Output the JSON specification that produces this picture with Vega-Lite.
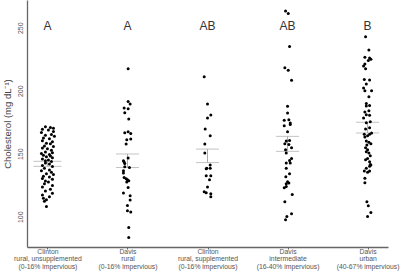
{
  "$schema": "https://vega.github.io/schema/vega-lite/v6.json",
  "width": 361,
  "height": 247,
  "autosize": "none",
  "padding": {"left": 27, "top": 0, "right": 12, "bottom": 27},
  "background": "white",
  "config": {
    "view": {"stroke": null},
    "font": "Liberation Sans",
    "axis": {"domainColor": "#666", "tickColor": "#666", "labelColor": "#555", "titleColor": "#444", "grid": false, "labelFont": "Liberation Sans", "titleFont": "Liberation Sans"}
  },
  "datasets": {
    "pts": [
      {"site": "C-U", "chol": 171.5, "jit": -2}, {"site": "C-U", "chol": 170.8, "jit": 3}, {"site": "C-U", "chol": 170.2, "jit": 6},
      {"site": "C-U", "chol": 169.4, "jit": -5}, {"site": "C-U", "chol": 168.9, "jit": 1}, {"site": "C-U", "chol": 167.6, "jit": 6},
      {"site": "C-U", "chol": 166.8, "jit": -6}, {"site": "C-U", "chol": 165.2, "jit": 4}, {"site": "C-U", "chol": 164.7, "jit": -2},
      {"site": "C-U", "chol": 163.9, "jit": 7}, {"site": "C-U", "chol": 162.5, "jit": -4}, {"site": "C-U", "chol": 161.8, "jit": 2},
      {"site": "C-U", "chol": 160.3, "jit": -5}, {"site": "C-U", "chol": 159.6, "jit": 5}, {"site": "C-U", "chol": 158.4, "jit": -1},
      {"site": "C-U", "chol": 157.9, "jit": 3}, {"site": "C-U", "chol": 156.2, "jit": -3}, {"site": "C-U", "chol": 155.8, "jit": 6},
      {"site": "C-U", "chol": 154.6, "jit": -5}, {"site": "C-U", "chol": 153.9, "jit": 0}, {"site": "C-U", "chol": 152.7, "jit": 4},
      {"site": "C-U", "chol": 151.4, "jit": -2}, {"site": "C-U", "chol": 150.8, "jit": 5}, {"site": "C-U", "chol": 150.1, "jit": -6},
      {"site": "C-U", "chol": 149.5, "jit": 2}, {"site": "C-U", "chol": 148.9, "jit": -4}, {"site": "C-U", "chol": 148.2, "jit": 3},
      {"site": "C-U", "chol": 147.6, "jit": -1}, {"site": "C-U", "chol": 146.9, "jit": 5}, {"site": "C-U", "chol": 145.8, "jit": -5},
      {"site": "C-U", "chol": 145.1, "jit": 1}, {"site": "C-U", "chol": 144.4, "jit": -2}, {"site": "C-U", "chol": 143.8, "jit": 4},
      {"site": "C-U", "chol": 142.6, "jit": -2}, {"site": "C-U", "chol": 141.9, "jit": 2}, {"site": "C-U", "chol": 140.7, "jit": -5},
      {"site": "C-U", "chol": 139.8, "jit": 5}, {"site": "C-U", "chol": 138.5, "jit": -3}, {"site": "C-U", "chol": 137.2, "jit": 2},
      {"site": "C-U", "chol": 136.6, "jit": -6}, {"site": "C-U", "chol": 135.4, "jit": 4}, {"site": "C-U", "chol": 134.1, "jit": -1},
      {"site": "C-U", "chol": 133.5, "jit": 6}, {"site": "C-U", "chol": 132.2, "jit": -4}, {"site": "C-U", "chol": 131.6, "jit": 2},
      {"site": "C-U", "chol": 130.4, "jit": -5}, {"site": "C-U", "chol": 129.7, "jit": 5}, {"site": "C-U", "chol": 128.3, "jit": -2},
      {"site": "C-U", "chol": 127.5, "jit": 1}, {"site": "C-U", "chol": 126.1, "jit": -3}, {"site": "C-U", "chol": 124.8, "jit": 5},
      {"site": "C-U", "chol": 123.6, "jit": -5}, {"site": "C-U", "chol": 121.9, "jit": 3}, {"site": "C-U", "chol": 120.4, "jit": -2},
      {"site": "C-U", "chol": 118.7, "jit": 5}, {"site": "C-U", "chol": 117.2, "jit": -5}, {"site": "C-U", "chol": 115.8, "jit": 2},
      {"site": "C-U", "chol": 114.6, "jit": -4}, {"site": "C-U", "chol": 113.5, "jit": -1}, {"site": "C-U", "chol": 112.3, "jit": -3},
      {"site": "C-U", "chol": 108.2, "jit": -1},

      {"site": "D-R", "chol": 217.5, "jit": 0.7}, {"site": "D-R", "chol": 191.5, "jit": 0.7}, {"site": "D-R", "chol": 189.5, "jit": 2.7},
      {"site": "D-R", "chol": 186.3, "jit": -3.3}, {"site": "D-R", "chol": 185.7, "jit": 0.7}, {"site": "D-R", "chol": 182.6, "jit": -2.7},
      {"site": "D-R", "chol": 177.6, "jit": 1.3}, {"site": "D-R", "chol": 166.7, "jit": -2.7}, {"site": "D-R", "chol": 167.5, "jit": 0.7},
      {"site": "D-R", "chol": 166.1, "jit": 3.3}, {"site": "D-R", "chol": 161.1, "jit": -0.7}, {"site": "D-R", "chol": 161.7, "jit": 3.3},
      {"site": "D-R", "chol": 157.7, "jit": -1.3}, {"site": "D-R", "chol": 146.6, "jit": 0.7}, {"site": "D-R", "chol": 144.4, "jit": -4},
      {"site": "D-R", "chol": 143.4, "jit": -3.3}, {"site": "D-R", "chol": 142.3, "jit": -2.7}, {"site": "D-R", "chol": 139.7, "jit": -2.7},
      {"site": "D-R", "chol": 139.1, "jit": 2}, {"site": "D-R", "chol": 136.5, "jit": -4}, {"site": "D-R", "chol": 134.7, "jit": -4},
      {"site": "D-R", "chol": 131.2, "jit": -3.3}, {"site": "D-R", "chol": 130.2, "jit": -1.3}, {"site": "D-R", "chol": 129.4, "jit": 0},
      {"site": "D-R", "chol": 128.6, "jit": 1.3}, {"site": "D-R", "chol": 127.5, "jit": -0.7}, {"site": "D-R", "chol": 123.3, "jit": 0.7},
      {"site": "D-R", "chol": 118.9, "jit": -4}, {"site": "D-R", "chol": 116.7, "jit": 2.7}, {"site": "D-R", "chol": 113.3, "jit": 2.7},
      {"site": "D-R", "chol": 109.0, "jit": 0}, {"site": "D-R", "chol": 104.8, "jit": 0}, {"site": "D-R", "chol": 103.7, "jit": 3.3},
      {"site": "D-R", "chol": 91.5, "jit": 1.3}, {"site": "D-R", "chol": 83.6, "jit": 1.3},

      {"site": "C-S", "chol": 211.0, "jit": -3.3}, {"site": "C-S", "chol": 189.5, "jit": 0}, {"site": "C-S", "chol": 180.7, "jit": 3.3},
      {"site": "C-S", "chol": 178.4, "jit": 0}, {"site": "C-S", "chol": 169.6, "jit": -2.3}, {"site": "C-S", "chol": 164.3, "jit": 2.7},
      {"site": "C-S", "chol": 157.7, "jit": -2.7}, {"site": "C-S", "chol": 150.5, "jit": -2.7}, {"site": "C-S", "chol": 141.0, "jit": 2.7},
      {"site": "C-S", "chol": 138.5, "jit": -0.7}, {"site": "C-S", "chol": 138.5, "jit": 2.7}, {"site": "C-S", "chol": 138.0, "jit": -1.3},
      {"site": "C-S", "chol": 132.5, "jit": -1.3}, {"site": "C-S", "chol": 132.5, "jit": 3.3}, {"site": "C-S", "chol": 129.4, "jit": 2},
      {"site": "C-S", "chol": 123.6, "jit": 0}, {"site": "C-S", "chol": 119.8, "jit": -3.3}, {"site": "C-S", "chol": 119.0, "jit": -1.3},
      {"site": "C-S", "chol": 118.3, "jit": 3.3}, {"site": "C-S", "chol": 115.9, "jit": 3.3},

      {"site": "D-I", "chol": 263.3, "jit": -2}, {"site": "D-I", "chol": 261.2, "jit": 0.7}, {"site": "D-I", "chol": 235.2, "jit": 2},
      {"site": "D-I", "chol": 218.3, "jit": -2.7}, {"site": "D-I", "chol": 216.2, "jit": 0.7}, {"site": "D-I", "chol": 208.3, "jit": 4},
      {"site": "D-I", "chol": 187.6, "jit": 0}, {"site": "D-I", "chol": 182.3, "jit": 0}, {"site": "D-I", "chol": 177.0, "jit": 1.3},
      {"site": "D-I", "chol": 176.6, "jit": -3.3}, {"site": "D-I", "chol": 174.4, "jit": 2.7}, {"site": "D-I", "chol": 173.3, "jit": 2.7},
      {"site": "D-I", "chol": 172.3, "jit": -3.3}, {"site": "D-I", "chol": 167.5, "jit": 0}, {"site": "D-I", "chol": 160.1, "jit": -1.3},
      {"site": "D-I", "chol": 160.6, "jit": 2}, {"site": "D-I", "chol": 158.0, "jit": -2.7}, {"site": "D-I", "chol": 157.4, "jit": 1.3},
      {"site": "D-I", "chol": 154.8, "jit": 4}, {"site": "D-I", "chol": 153.2, "jit": -2}, {"site": "D-I", "chol": 150.6, "jit": -1.3},
      {"site": "D-I", "chol": 146.3, "jit": 4}, {"site": "D-I", "chol": 144.7, "jit": 2}, {"site": "D-I", "chol": 142.6, "jit": -1.3},
      {"site": "D-I", "chol": 142.6, "jit": 2.7}, {"site": "D-I", "chol": 138.4, "jit": -1.3}, {"site": "D-I", "chol": 134.1, "jit": 2},
      {"site": "D-I", "chol": 131.7, "jit": -1.7}, {"site": "D-I", "chol": 127.8, "jit": 0}, {"site": "D-I", "chol": 126.8, "jit": 1.3},
      {"site": "D-I", "chol": 126.2, "jit": -1.3}, {"site": "D-I", "chol": 124.0, "jit": -1.3}, {"site": "D-I", "chol": 123.0, "jit": -3.3},
      {"site": "D-I", "chol": 117.7, "jit": 4.7}, {"site": "D-I", "chol": 111.9, "jit": -2.7}, {"site": "D-I", "chol": 102.4, "jit": 4},
      {"site": "D-I", "chol": 100.3, "jit": -0.7}, {"site": "D-I", "chol": 97.6, "jit": -2},

      {"site": "D-U", "chol": 242.9, "jit": -2}, {"site": "D-U", "chol": 232.3, "jit": 1.3}, {"site": "D-U", "chol": 226.5, "jit": -2.7},
      {"site": "D-U", "chol": 226.0, "jit": 2}, {"site": "D-U", "chol": 224.9, "jit": 3.3}, {"site": "D-U", "chol": 223.9, "jit": 0.7},
      {"site": "D-U", "chol": 221.3, "jit": -2.7}, {"site": "D-U", "chol": 219.6, "jit": -4}, {"site": "D-U", "chol": 217.5, "jit": -2},
      {"site": "D-U", "chol": 209.0, "jit": -3.3}, {"site": "D-U", "chol": 208.5, "jit": 2}, {"site": "D-U", "chol": 205.3, "jit": -1.3},
      {"site": "D-U", "chol": 202.2, "jit": -4}, {"site": "D-U", "chol": 200.0, "jit": 4}, {"site": "D-U", "chol": 200.0, "jit": -2.7},
      {"site": "D-U", "chol": 195.2, "jit": 1.3}, {"site": "D-U", "chol": 189.9, "jit": -1.3}, {"site": "D-U", "chol": 188.3, "jit": 2},
      {"site": "D-U", "chol": 187.9, "jit": -1.3}, {"site": "D-U", "chol": 184.2, "jit": 1.3}, {"site": "D-U", "chol": 183.2, "jit": -2.7},
      {"site": "D-U", "chol": 181.0, "jit": -1.3}, {"site": "D-U", "chol": 180.5, "jit": 2}, {"site": "D-U", "chol": 178.4, "jit": -4},
      {"site": "D-U", "chol": 174.5, "jit": -1.3}, {"site": "D-U", "chol": 175.4, "jit": 2.7}, {"site": "D-U", "chol": 170.7, "jit": 2},
      {"site": "D-U", "chol": 169.6, "jit": -2}, {"site": "D-U", "chol": 165.4, "jit": -3.3}, {"site": "D-U", "chol": 165.4, "jit": 2},
      {"site": "D-U", "chol": 166.5, "jit": 4}, {"site": "D-U", "chol": 164.3, "jit": 0}, {"site": "D-U", "chol": 163.3, "jit": -2.7},
      {"site": "D-U", "chol": 160.1, "jit": -1.3}, {"site": "D-U", "chol": 159.2, "jit": 1.3}, {"site": "D-U", "chol": 158.0, "jit": 3.3},
      {"site": "D-U", "chol": 157.0, "jit": -0.7}, {"site": "D-U", "chol": 154.8, "jit": -2}, {"site": "D-U", "chol": 153.2, "jit": 0},
      {"site": "D-U", "chol": 151.6, "jit": -1.3}, {"site": "D-U", "chol": 150.6, "jit": 1.3}, {"site": "D-U", "chol": 148.4, "jit": 2.7},
      {"site": "D-U", "chol": 146.3, "jit": 0}, {"site": "D-U", "chol": 145.3, "jit": -2}, {"site": "D-U", "chol": 143.7, "jit": 2},
      {"site": "D-U", "chol": 141.5, "jit": 2.7}, {"site": "D-U", "chol": 141.1, "jit": 3.3}, {"site": "D-U", "chol": 140.0, "jit": 2},
      {"site": "D-U", "chol": 138.4, "jit": -1.3}, {"site": "D-U", "chol": 136.4, "jit": -3.3}, {"site": "D-U", "chol": 136.4, "jit": 2},
      {"site": "D-U", "chol": 135.3, "jit": 0}, {"site": "D-U", "chol": 130.6, "jit": -2.7}, {"site": "D-U", "chol": 126.9, "jit": -2.7},
      {"site": "D-U", "chol": 111.9, "jit": -0.7}, {"site": "D-U", "chol": 108.7, "jit": 0.7}, {"site": "D-U", "chol": 103.4, "jit": 3.3},
      {"site": "D-U", "chol": 100.2, "jit": 0}
    ],
    "se": [
      {"site": "C-U", "lo": 140.0, "hi": 144.0, "wide": true},
      {"site": "D-R", "lo": 139.1, "hi": 149.8, "wide": false},
      {"site": "C-S", "lo": 143.0, "hi": 153.7, "wide": false},
      {"site": "D-I", "lo": 151.9, "hi": 163.8, "wide": false},
      {"site": "D-U", "lo": 166.5, "hi": 175.0, "wide": false}
    ],
    "letters": [
      {"site": "C-U", "letter": "A"},
      {"site": "D-R", "letter": "A"},
      {"site": "C-S", "letter": "AB"},
      {"site": "D-I", "letter": "AB"},
      {"site": "D-U", "letter": "B"}
    ]
  },
  "encoding": {
    "x": {
      "field": "site", "type": "nominal",
      "sort": ["C-U", "D-R", "C-S", "D-I", "D-U"],
      "scale": {"type": "point", "padding": 0.255},
      "axis": {
        "title": null, "labelAngle": 0, "labelFontSize": 6.8, "labelLineHeight": 7.6,
        "tickSize": 2, "labelPadding": -1, "domainWidth": 1.3, "labelBaseline": "top",
        "labelExpr": "{'C-U': ['Clinton', 'rural, unsupplemented', '(0-16% impervious)'], 'D-R': ['Davis', 'rural', '(0-16% impervious)'], 'C-S': ['Clinton', 'rural, supplemented', '(0-16% impervious)'], 'D-I': ['Davis', 'intermediate', '(16-40% impervious)'], 'D-U': ['Davis', 'urban', '(40-67% impervious)']}[datum.value]"
      }
    }
  },
  "layer": [
    {
      "data": {"name": "se"},
      "mark": {"type": "rule", "color": "#aaaaaa", "strokeWidth": 1},
      "encoding": {
        "y": {"field": "lo", "type": "quantitative", "scale": {"domain": [76, 272], "nice": false, "zero": false}},
        "y2": {"field": "hi"}
      }
    },
    {
      "data": {"name": "se"},
      "transform": [{"fold": ["lo", "hi"], "as": ["bound", "val"]}],
      "mark": {"type": "tick", "color": "#aaaaaa", "thickness": 1, "orient": "horizontal"},
      "encoding": {
        "y": {"field": "val", "type": "quantitative"},
        "size": {"condition": {"test": "datum.wide", "value": 28}, "value": 23}
      }
    },
    {
      "data": {"name": "pts"},
      "mark": {"type": "circle", "color": "black", "opacity": 1, "size": 9},
      "encoding": {
        "y": {
          "field": "chol", "type": "quantitative",
          "scale": {"domain": [76, 272], "nice": false, "zero": false},
          "axis": {
            "title": "Cholesterol (mg dL⁻¹)", "titleFontSize": 9.5, "titleFontWeight": "normal", "titlePadding": 4,
            "values": [100, 150, 200, 250], "ticks": false, "labelAngle": -90, "labelAlign": "center",
            "labelBaseline": "bottom", "labelFontSize": 7, "labelPadding": 4, "domainWidth": 1.3
          }
        },
        "xOffset": {"field": "jit", "type": "quantitative", "scale": {"domain": [-10, 10], "range": [-10, 10]}}
      }
    },
    {
      "data": {"name": "letters"},
      "mark": {"type": "text", "fontSize": 12, "color": "#333", "baseline": "middle"},
      "encoding": {
        "y": {"datum": 251, "type": "quantitative"},
        "text": {"field": "letter"}
      }
    }
  ]
}
